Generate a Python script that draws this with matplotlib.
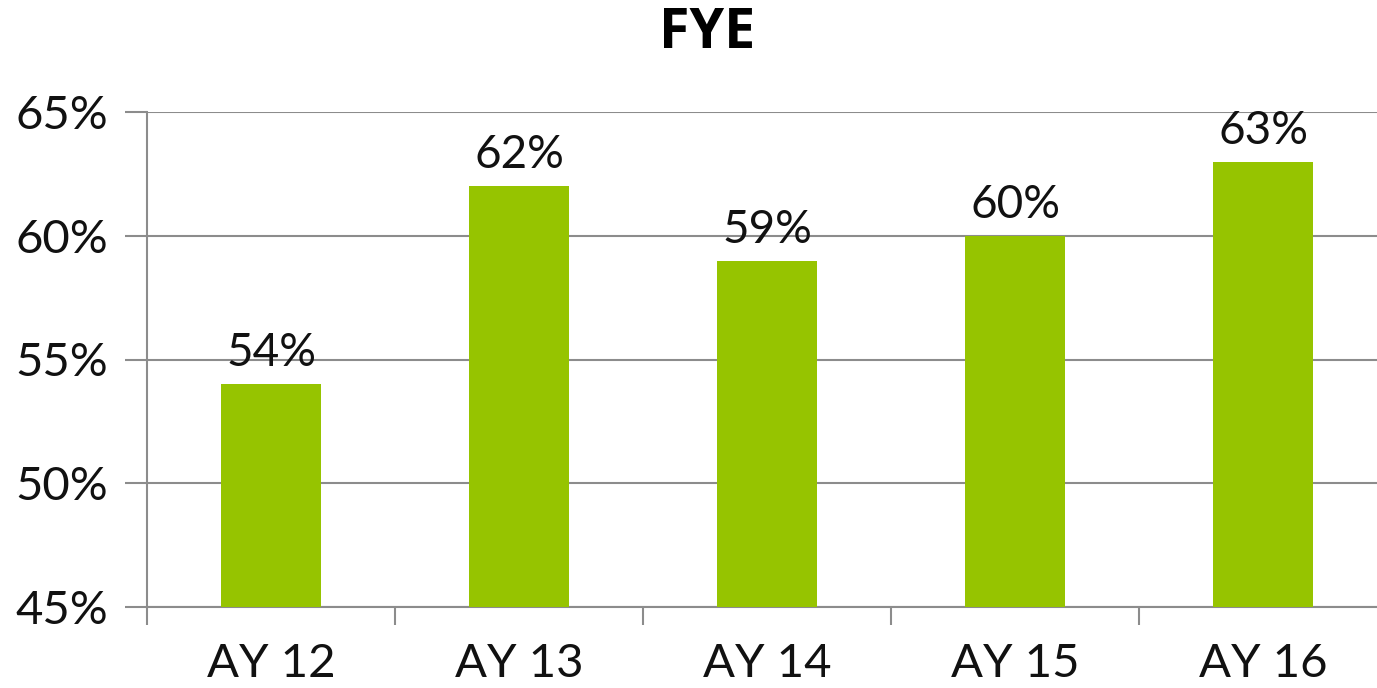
import matplotlib.pyplot as plt
import numpy as np

# data
years = ['AY 12', 'AY 13', 'AY 14', 'AY 15', 'AY 16']
fye = [54, 62, 59, 60, 63]
yticks = [45, 50, 55, 60, 65]

W, H = 1377, 688
fig = plt.figure(figsize=(W / 100, H / 100), dpi=100)
ax = fig.add_axes([147 / W, (H - 607) / H, 1240 / W, 495 / H])

x = np.arange(len(years))
ax.bar(x, fye, width=0.4, color='#96C400', zorder=3)

for xi, v in zip(x, fye):
    ax.text(xi, v + 0.4, f'{v}%', ha='center', va='bottom',
            fontsize=33, family='Lato', color='#111111')

ax.set_xlim(-0.5, len(years) - 0.5)
ax.set_ylim(45, 65)
ax.set_yticks(yticks)
ax.set_yticklabels([f'{t}%' for t in yticks], family='Lato', fontsize=34,
                   color='#111111')
ax.yaxis.grid(True, color='#8c8c8c', linewidth=1.5, zorder=0)
ax.tick_params(axis='y', length=16, width=1.5, color='#8c8c8c', pad=12)

# category labels centered, tick marks between categories
ax.set_xticks(np.arange(len(years) + 1) - 0.5)
ax.set_xticklabels([])
ax.set_xticks(x, minor=True)
ax.set_xticklabels(years, minor=True, family='Lato', fontsize=34,
                   color='#111111')
ax.tick_params(axis='x', which='major', length=13, width=1.5, color='#8c8c8c')
ax.tick_params(axis='x', which='minor', length=0, pad=26)

for s in ['top', 'right']:
    ax.spines[s].set_visible(False)
for s in ['left', 'bottom']:
    ax.spines[s].set_color('#8c8c8c')
    ax.spines[s].set_linewidth(1.5)

fig.text(707 / W, 1 - 33 / H, 'FYE', ha='center', va='center',
         fontsize=40, fontweight='bold', family='Open Sans')

fig.savefig('out.png', dpi=100)
